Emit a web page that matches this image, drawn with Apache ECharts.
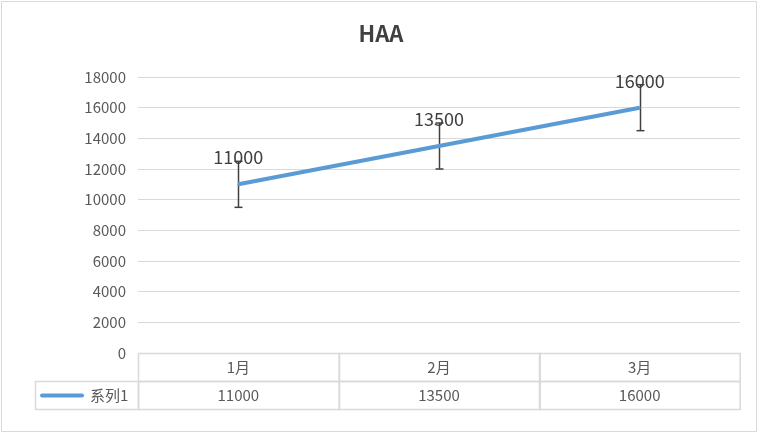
<!DOCTYPE html>
<html><head><meta charset="utf-8">
<script src="https://cdn.jsdelivr.net/npm/echarts@6/dist/echarts.min.js"></script>
<style>html,body{margin:0;padding:0;background:#fff;}#c{width:762px;height:434px;}</style>
</head><body><div id="c"></div>
<script>
const categories = ['1月', '2月', '3月'];
const values = [11000, 13500, 16000];
const errorPlus = [1500, 1500, 1500];
const errorMinus = [1500, 1500, 1500];
const seriesName = '系列1';
const yTicks = [0, 2000, 4000, 6000, 8000, 10000, 12000, 14000, 16000, 18000];

const FONT = '"Noto Sans CJK SC", "Noto Sans", sans-serif';
const chart = echarts.init(document.getElementById('c'), null, {renderer: 'canvas'});
const ROW = 28;
const option = {
  backgroundColor: '#fff',
  animation: false,
  title: {text: 'HAA', left: 'center', top: 18, textStyle: {fontFamily: FONT, fontSize: 22, fontWeight: 'bold', color: '#404040'}},
  graphic: [{type: 'rect', shape: {x: 1.5, y: 1.5, width: 755, height: 430}, style: {fill: 'none', stroke: '#d9d9d9', lineWidth: 1}, silent: true}],
  grid: {left: 138, right: 22, top: 77, bottom: 81},
  xAxis: {type: 'category', data: categories, boundaryGap: true,
    axisLine: {show: false}, axisTick: {show: false}, axisLabel: {show: false}, splitLine: {show: false}},
  yAxis: {type: 'value', min: yTicks[0], max: yTicks[yTicks.length - 1], interval: 2000,
    axisLine: {show: false}, axisTick: {show: false},
    axisLabel: {color: '#595959', fontSize: 15, fontFamily: FONT, margin: 12, formatter: v => String(v)},
    splitLine: {lineStyle: {color: '#d9d9d9', width: 1}}},
  series: [
    {type: 'line', name: seriesName, data: values, symbol: 'circle', symbolSize: 2, showSymbol: true,
      itemStyle: {color: '#5b9bd5'},
      lineStyle: {color: '#5b9bd5', width: 4}, z: 3,
      label: {show: true, position: 'top', distance: 17, fontSize: 18, color: '#404040', fontFamily: FONT}},
    {type: 'custom', name: 'err', z: 2,
      data: values.map((v, i) => [i, v - errorMinus[i], v + errorPlus[i]]),
      renderItem: function (params, api) {
        const lo = api.coord([api.value(0), api.value(1)]);
        const hi = api.coord([api.value(0), api.value(2)]);
        const x = Math.round(lo[0]) + 0.5, w = 4;
        const st = {stroke: '#404040', lineWidth: 1.5};
        return {type: 'group', children: [
          {type: 'line', shape: {x1: x, y1: lo[1], x2: x, y2: hi[1]}, style: st},
          {type: 'line', shape: {x1: x - w, y1: lo[1], x2: x + w, y2: lo[1]}, style: st},
          {type: 'line', shape: {x1: x - w, y1: hi[1], x2: x + w, y2: hi[1]}, style: st}
        ]};
      }},
    {type: 'custom', name: 'table', z: 4, silent: true,
      data: values.map((v, i) => [i, v]),
      renderItem: function (params, api) {
        const idx = api.value(0);
        const c = api.coord([idx, 0]);
        const w = api.size([1, 0])[0];
        const x0 = Math.round(c[0] - w / 2) + 0.5;
        const y0 = Math.round(c[1]) + 0.5;
        const ls = {fill: 'none', stroke: '#d9d9d9', lineWidth: 1.5};
        const ts = {fill: '#595959', fontSize: 15, fontFamily: FONT, align: 'center', verticalAlign: 'middle'};
        const ch = [
          {type: 'rect', shape: {x: x0, y: y0, width: w, height: ROW}, style: ls},
          {type: 'rect', shape: {x: x0, y: y0 + ROW, width: w, height: ROW}, style: ls},
          {type: 'text', x: c[0], y: y0 + ROW / 2, style: Object.assign({text: categories[idx]}, ts)},
          {type: 'text', x: c[0], y: y0 + ROW * 1.5, style: Object.assign({text: String(api.value(1))}, ts)}
        ];
        if (idx === 0) {
          const lx = 35.5;
          ch.push({type: 'rect', shape: {x: lx, y: y0 + ROW, width: x0 - lx, height: ROW}, style: ls});
          ch.push({type: 'line', shape: {x1: 42, y1: y0 + ROW * 1.5, x2: 82, y2: y0 + ROW * 1.5}, style: {stroke: '#5b9bd5', lineWidth: 4, lineCap: 'round'}});
          ch.push({type: 'text', x: 90, y: y0 + ROW * 1.5, style: {text: seriesName, fill: '#595959', fontSize: 15, fontFamily: FONT, align: 'left', verticalAlign: 'middle'}});
        }
        return {type: 'group', children: ch};
      }}
  ]
};
chart.setOption(option);
</script></body></html>
